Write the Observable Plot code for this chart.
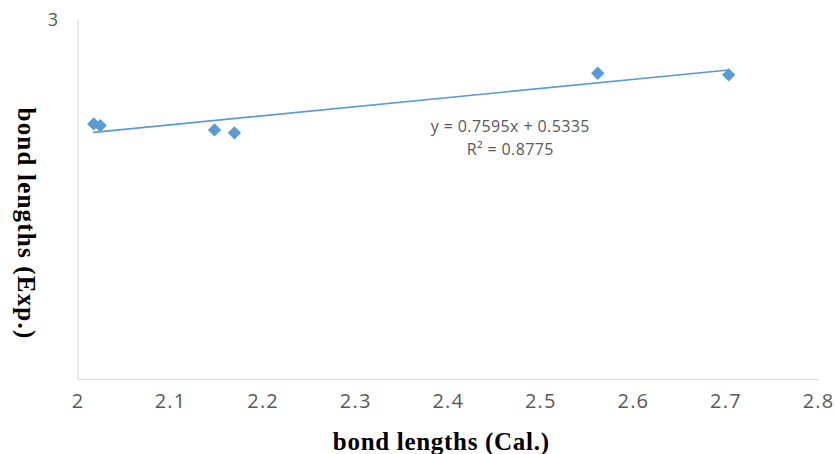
<!DOCTYPE html>
<html>
<head>
<meta charset="utf-8">
<script src="https://cdn.jsdelivr.net/npm/d3@7"></script>
<script src="https://cdn.jsdelivr.net/npm/@observablehq/plot@0.6"></script>
<style>
  html, body { margin: 0; padding: 0; background: #fff; }
  #chart svg { display: block; }
</style>
</head>
<body>
<div id="chart"></div>
<script>
// Data
const calX = [2.017, 2.024, 2.1475, 2.169, 2.5615, 2.703];
const expY = [2.136, 2.122, 2.086, 2.061, 2.559, 2.546];

// Trendline coefficients (as displayed)
const slope = 0.7595;
const intercept = 0.5335;
const rSquared = 0.8775;

// Axis ticks and labels
const xTicks = [2, 2.1, 2.2, 2.3, 2.4, 2.5, 2.6, 2.7, 2.8];
const xTickLabels = ["2", "2.1", "2.2", "2.3", "2.4", "2.5", "2.6", "2.7", "2.8"];
const yTicks = [3];
const yTickLabels = ["3"];

const xTitle = "bond lengths (Cal.)";
const yTitle = "bond lengths (Exp.)";

const points = calX.map((x, i) => ({x, y: expY[i]}));
const xMin = d3.min(calX), xMax = d3.max(calX);
const trend = [xMin, xMax].map(x => ({x, y: slope * x + intercept}));
const eqText = `y = ${slope}x + ${intercept}\nR² = ${rSquared}`;

const blue = "#5b9bd5";
const grid = "#d9d9d9";
const textGray = "#595959";
const serif = "'Liberation Serif', 'Times New Roman', serif";

const chart = Plot.plot({
  width: 835,
  height: 454,
  marginLeft: 77.5,
  marginRight: 17,
  marginTop: 20,
  marginBottom: 75,
  style: {background: "#fff", color: textGray, fontFamily: "'Open Sans', sans-serif"},
  x: {domain: [2, 2.8]},
  y: {domain: [0, 3]},
  marks: [
    Plot.ruleY([0], {stroke: grid, strokeWidth: 1.2}),
    Plot.ruleX([2], {stroke: grid, strokeWidth: 1.2}),
    Plot.axisX({
      ticks: xTicks, tickSize: 0, tickPadding: 14, fontSize: 20,
      tickFormat: d => xTickLabels[xTicks.indexOf(d)], label: null
    }),
    Plot.axisY({
      ticks: yTicks, tickSize: 0, tickPadding: 20, fontSize: 18,
      tickFormat: d => yTickLabels[yTicks.indexOf(d)], label: null
    }),
    Plot.line(trend, {x: "x", y: "y", stroke: blue, strokeWidth: 1.6}),
    Plot.dot(points, {x: "x", y: "y", symbol: "diamond2", r: 6, fill: blue, stroke: "none"}),
    Plot.text([eqText], {
      frameAnchor: "top", dx: 62, dy: 115.5, lineAnchor: "middle", lineHeight: 1.42,
      fontSize: 16, fill: textGray
    }),
    Plot.text([xTitle], {
      frameAnchor: "bottom", dx: -7, dy: 62, lineAnchor: "middle", textAnchor: "middle",
      fontSize: 25, fontWeight: "bold", fontFamily: serif, fill: "#000"
    }),
    Plot.text([yTitle], {
      frameAnchor: "left", dx: -52.5, dy: 23.5, rotate: 90, lineAnchor: "middle", textAnchor: "middle",
      fontSize: 25, fontWeight: "bold", fontFamily: serif, fill: "#000"
    })
  ]
});

const svg = d3.select(chart);
svg.selectAll('g[aria-label^="x-axis"] text').attr("font-size", 20).style("font-size", "20px")
  .style("letter-spacing", "1.2px");
svg.selectAll('g[aria-label^="y-axis"] text').attr("font-size", 18).style("font-size", "18px");
svg.selectAll('g[aria-label="text"]').each(function(d, i) {
  // i: 0 = equation, 1 = x title, 2 = y title
  const ls = [0.4, 0.7, 1.2][i];
  d3.select(this).selectAll("text").style("letter-spacing", ls + "px");
});
document.getElementById("chart").appendChild(chart);
</script>
</body>
</html>
